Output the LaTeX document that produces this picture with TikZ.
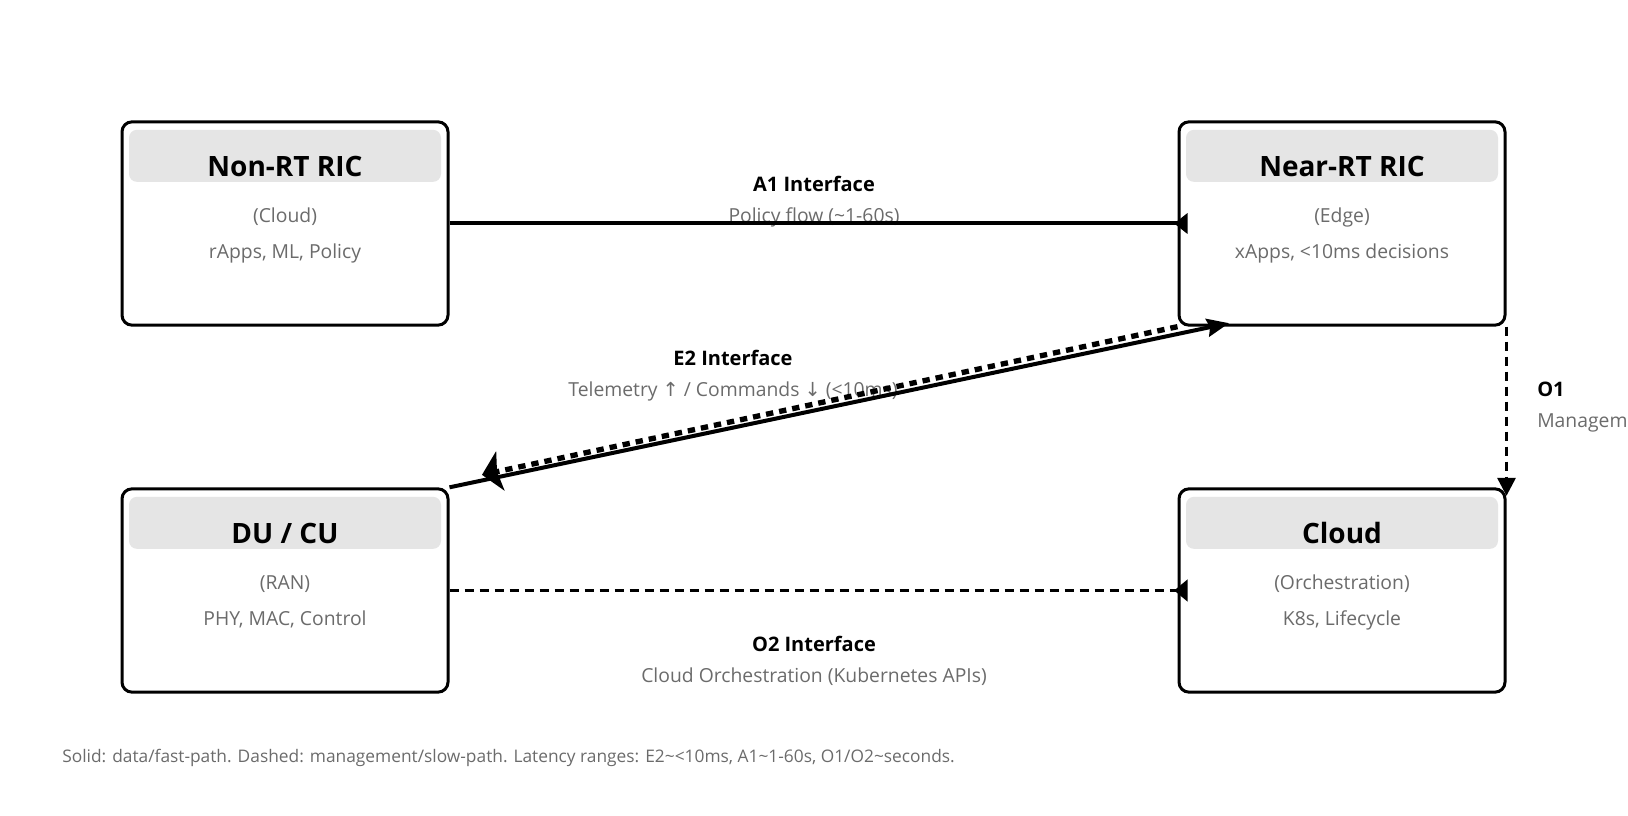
\documentclass[tikz,border=0pt]{standalone}
\usepackage{fontspec}
\setmainfont{Open Sans}
\newfontfamily\arrowfont{DejaVu Sans}
\usetikzlibrary{arrows.meta,calc}
\definecolor{subgray}{RGB}{107,107,107}
\definecolor{hdrgray}{RGB}{229,229,229}

\begin{document}
\begin{tikzpicture}[x=0.75pt,y=-0.75pt,
  box/.style={draw=black,line width=2.25pt,fill=white,rounded corners=7.5pt,
    minimum width=244.5pt,minimum height=152.5pt,inner sep=0pt},
  ttl/.style={anchor=base,font=\fontsize{21pt}{25pt}\selectfont\bfseries},
  sub/.style={anchor=base,text=subgray,font=\fontsize{14.5pt}{17pt}\selectfont},
  lbl/.style={anchor=base,font=\fontsize{15pt}{18pt}\selectfont\bfseries},
  lblsub/.style={anchor=base,text=subgray,font=\fontsize{14.5pt}{17pt}\selectfont},
  fast/.style={line width=3pt},
  slow/.style={line width=2.25pt,dash pattern=on 6.75pt off 4.5pt},
  dotline/.style={line width=4pt,dash pattern=on 5.5pt off 4.5pt}]
\useasboundingbox (0,0) rectangle (1628,816);
\clip (0,0) rectangle (1628,816);
% the four boxes
\node[box] (nonrt) at (285,223.5) {};
\node[box] (nearrt) at (1342,223.5) {};
\node[box] (ducu) at (285,590.5) {};
\node[box] (cloud) at (1342,590.5) {};
\foreach \n/\ttl/\sa/\sb in {nonrt/{Non-RT RIC}/(Cloud)/{rApps, ML, Policy},
    nearrt/{Near-RT RIC}/(Edge)/{xApps, <10ms decisions},
    ducu/{DU / CU}/(RAN)/{PHY, MAC, Control},
    cloud/{Cloud}/(Orchestration)/{K8s, Lifecycle}}{
  \fill[hdrgray,rounded corners=6pt] ($(\n.north west)+(8.5,9.5)$) rectangle ($(\n.north east)+(-8.5,61.5)$);
  \node[ttl] (\n-t) at ($(\n.north)+(0,56.5)$) {\ttl};
  \node[sub] (\n-a) at ($(\n.north)+(0,102)$) {\sa};
  \node[sub] (\n-b) at ($(\n.north)+(0,138.5)$) {\sb};
}
% interface labels
\node[lbl] (a1) at (814,192) {A1 Interface};
\node[lblsub] (a1s) at (814,223) {Policy flow (\textasciitilde1-60s)};
\node[lbl] (e2) at (733,366) {E2 Interface};
\node[lblsub] (e2s) at (733,397) {Telemetry {\arrowfont ↑} / Commands {\arrowfont ↓} (<10ms)};
\node[lbl] (o2) at (814,651) {O2 Interface};
\node[lblsub] (o2s) at (814,682) {Cloud Orchestration (Kubernetes APIs)};
\node[lbl,anchor=base west,inner sep=0pt] (o1) at (1537,397) {O1};
\node[lblsub,anchor=base west,inner sep=0pt] (o1s) at (1537,427) {Management};
% connectors
\draw[fast,-{Triangle[reversed,length=10pt,width=15pt]},shorten >=-7.5pt] (nonrt.east) -- (nearrt.west);
\draw[slow,-{Triangle[reversed,length=10pt,width=16pt]},shorten >=-7.5pt] (ducu.east) -- (cloud.west);
\draw[slow,-{Triangle[length=13.5pt,width=13.5pt]},shorten >=-6.4pt] (nearrt.south east) -- (cloud.north east);
\draw[fast,-{Stealth[length=16.5pt,width=13.5pt,inset=2pt]}] (ducu.north east) -- ($(nearrt.south west)+(51.5,-3.5)$);
\draw[dotline,-{Stealth[length=14pt,width=30pt,inset=2.5pt]}] (nearrt.south west) -- ($(ducu.north east)+(32.5,-12.5)$);
% legend
\node[anchor=base west,inner sep=0pt,text=subgray,font=\fontsize{13pt}{15pt}\selectfont] (legend) at (62,762)
  {Solid: data/fast-path. Dashed: management/slow-path. Latency ranges: E2\textasciitilde<10ms, A1\textasciitilde1-60s, O1/O2\textasciitilde seconds.};
\end{tikzpicture}
\end{document}
